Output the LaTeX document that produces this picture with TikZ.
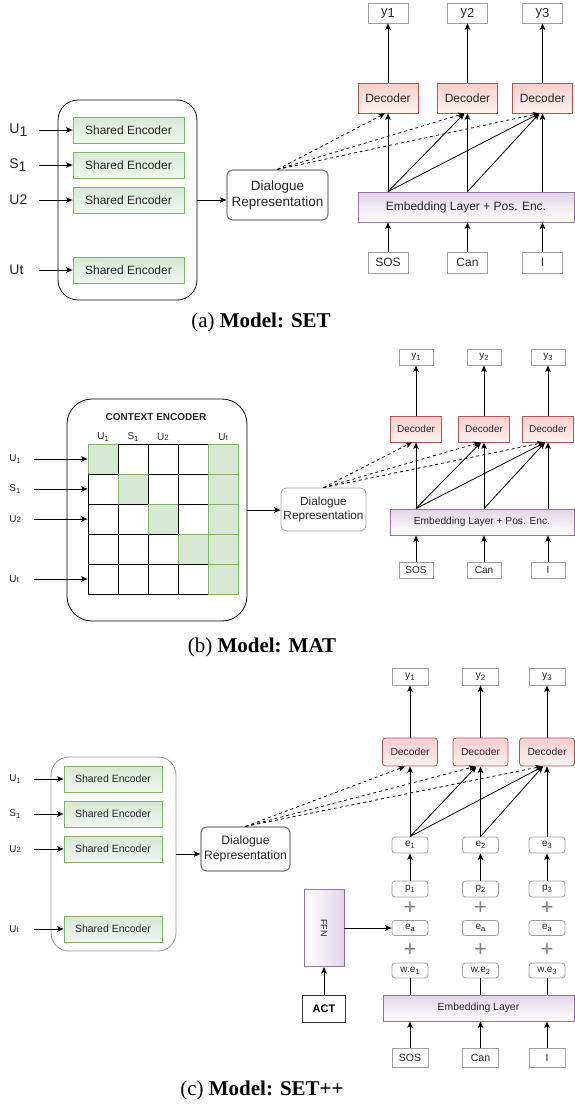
\documentclass[tikz,border=0pt]{standalone}
\usepackage{fontspec}
\setmainfont{Liberation Serif}
\setsansfont{Liberation Sans}
\usetikzlibrary{arrows.meta,positioning}
\definecolor{encgreen}{HTML}{D5E8D4}
\definecolor{encline}{HTML}{82B366}
\definecolor{decred}{HTML}{F8CECC}
\definecolor{decline}{HTML}{B85450}
\definecolor{embpurple}{HTML}{E1D5E7}
\definecolor{embline}{HTML}{9673A6}
\newcommand{\fsize}[2]{\sffamily\fontsize{#1}{#2}\selectfont}
\newcommand{\dsub}[1]{\raisebox{-.35ex}{#1}}
\newcommand{\lsub}[1]{\raisebox{-.4ex}{\scalebox{.75}{#1}}}
\newcommand{\ssub}[1]{\scalebox{.78}{#1}}
\begin{document}
\begin{tikzpicture}[x=1pt,y=-1pt,line width=.8pt,
	>={Stealth[length=6.5pt,width=5.5pt,inset=1.5pt]},
	wh/.style 2 args={minimum width=#1pt,minimum height=#2pt},
	plain/.style={draw=gray!75,fill=white,inner sep=0pt,text=black!85},
	rplain/.style={plain,rounded corners=3pt},
	encbox/.style={draw=encline,top color=encgreen,bottom color=encgreen!35,inner sep=0pt,text=black!85},
	decbox/.style={draw=decline,top color=decred,bottom color=decred!25,inner sep=0pt,text=black!85},
	embbox/.style={draw=embline,top color=embpurple,bottom color=white,inner sep=0pt,text=black!85},
	dlgbox/.style={draw=gray,fill=white,rounded corners=6pt,align=center,inner sep=0pt,text=black!85},
	outerbox/.style={draw,rounded corners=#1,inner sep=0pt},
	lab/.style={inner sep=0pt,anchor=west,text width=#1,align=left,text=black!85},
	wcell/.style={draw=black,fill=white,wh={30}{30},inner sep=0pt},
	gcell/.style={draw=encline,fill=encgreen,wh={30}{30},inner sep=0pt},
	plus/.style={inner sep=0pt,text=gray,font=\fsize{22}{22}},
	caption/.style={font=\fontsize{21}{24}\selectfont}]
	\useasboundingbox (0,0) rectangle (574,1111);
	% (a) SET
	\node[outerbox=20pt,wh={139}{200}] (encA) at (127.5,200) {};
	\foreach \n/\y/\txt in {1/130/U\dsub{1},2/165/S\dsub{1},3/200/U2,4/270/Ut}{
		\node[encbox,wh={111}{26},font=\fsize{12}{14}] (seA\n) at (128.5,\y) {Shared Encoder};
		\node[lab=29pt,font=\fsize{14}{16}] (uA\n) at (9,\y) {\txt};
		\draw[->] (uA\n.east) -- (seA\n.west);
	}
	\node[dlgbox,wh={101}{50},line width=1.2pt,font=\fsize{13.5}{16}] (dlgA) at (277.5,195) {Dialogue\\Representation};
	\draw[->] (encA.east) -- (encA.east -| dlgA.west);
	\node[embbox,wh={216}{30},font=\fsize{12}{14}] (embA) at (466,207) {Embedding Layer + Pos. Enc.};
	\foreach \n/\x/\tok in {1/388/SOS,2/467.5/Can,3/542.5/I}{
		\node[decbox,wh={60}{30},font=\fsize{12}{14}] (decA\n) at (\x,98) {Decoder};
		\node[plain,wh={40}{20},font=\fsize{13}{15}] (yA\n) at (\x,13) {y\dsub{\n}};
		\node[plain,wh={40}{21},font=\fsize{12}{14}] (tokA\n) at (\x,262.5) {\tok};
		\draw[->] (decA\n) -- (yA\n);
		\draw[->] (tokA\n) -- (tokA\n |- embA.south);
		\draw[->] (embA.north -| decA\n) -- (decA\n);
		\draw[->,dashed] (dlgA.north) -- ([xshift=-3pt]decA\n.south);
	}
	\draw[->] (embA.north -| decA1) -- ([xshift=-3pt]decA2.south);
	\draw[->] (embA.north -| decA1) -- ([xshift=-3pt]decA3.south);
	\draw[->] (embA.north -| decA2) -- ([xshift=-3pt]decA3.south);
	\node[caption] (capA) at (261,322) {(a) \textbf{Model: SET}};
	% (b) MAT
	\node[outerbox=25pt,wh={180}{222}] (encB) at (157,510) {};
	\node[font=\fsize{10}{12}\bfseries,text=black!85] (ctxB) at (156,417) {CONTEXT ENCODER};
	\foreach \r in {0,...,4}
		\foreach \c in {0,...,4}{
			\ifnum\c=4 \def\cs{gcell}\else\ifnum\c=\r \def\cs{gcell}\else\def\cs{wcell}\fi\fi
			\node[\cs] (cB\r\c) at ({103+30*\c},{459+30*\r}) {};
		}
	\foreach \c/\txt in {0/U\lsub{1},1/S\lsub{1},2/U\ssub{2},4/U\ssub{t}}
		\node[font=\fsize{10}{12},text=black!85] (hB\c) at ({103+30*\c},437) {\txt};
	\foreach \r/\txt in {0/U\lsub{1},1/S\lsub{1},2/U\ssub{2},4/U\ssub{t}}{
		\node[lab=24pt,font=\fsize{10}{12}] (uB\r) at (9,{459+30*\r}) {\txt};
		\draw[->] (uB\r.east) -- (cB\r0.west);
	}
	\node[dlgbox,wh={85}{43},draw=gray!70,font=\fsize{11.8}{14}] (dlgB) at (323.5,509.5) {Dialogue\\Representation};
	\draw[->] (encB.east) -- (encB.east -| dlgB.west);
	\node[embbox,wh={184}{26},font=\fsize{10.2}{12}] (embB) at (482,522) {Embedding Layer + Pos. Enc.};
	\foreach \n/\x/\tok in {1/416/SOS,2/484/Can,3/548/I}{
		\node[decbox,wh={51}{26},font=\fsize{10}{12}] (decB\n) at (\x,429) {Decoder};
		\node[plain,wh={34}{16},font=\fsize{10}{12}] (yB\n) at (\x,357) {y\lsub{\n}};
		\node[plain,wh={34}{16},font=\fsize{10}{12}] (tokB\n) at (\x,570) {\tok};
		\draw[->] (decB\n) -- (yB\n);
		\draw[->] (tokB\n) -- (tokB\n |- embB.south);
		\draw[->] (embB.north -| decB\n) -- (decB\n);
		\draw[->,dashed] (dlgB.north) -- ([xshift=-4pt]decB\n.south);
	}
	\draw[->] (embB.north -| decB1) -- ([xshift=-3pt]decB2.south);
	\draw[->] (embB.north -| decB1) -- ([xshift=-3pt]decB3.south);
	\draw[->] (embB.north -| decB2) -- ([xshift=-3pt]decB3.south);
	\node[caption] (capB) at (262,647) {(b) \textbf{Model: MAT}};
	% (c) SET++
	\node[outerbox=18pt,draw=gray!80,wh={125}{194}] (encC) at (113.5,854) {};
	\foreach \n/\y/\txt in {1/779/U\lsub{1},2/814/S\lsub{1},3/849/U\ssub{2},4/929/U\ssub{t}}{
		\node[encbox,wh={98}{26},font=\fsize{10.5}{12}] (seC\n) at (113,\y) {Shared Encoder};
		\node[lab=24pt,font=\fsize{10}{12}] (uC\n) at (9,\y) {\txt};
		\draw[->] (uC\n.east) -- (seC\n.west);
	}
	\node[dlgbox,wh={89}{44},line width=1.2pt,font=\fsize{12.2}{14.5}] (dlgC) at (245.5,849) {Dialogue\\Representation};
	\draw[->] (encC.east) -- (encC.east -| dlgC.west);
	\node[embbox,wh={191}{26},font=\fsize{10.4}{12}] (embC) at (478.5,1008) {Embedding Layer};
	\foreach \n/\x/\tok in {1/410/SOS,2/480.5/Can,3/547/I}{
		\node[decbox,rounded corners=3pt,wh={55}{28},font=\fsize{10.3}{12}] (decC\n) at (\x,752) {Decoder};
		\node[plain,wh={36}{17},font=\fsize{10.5}{12}] (yC\n) at (\x,676.5) {y\lsub{\n}};
		\node[rplain,wh={36}{16},font=\fsize{10}{12}] (eC\n) at (\x,845) {e\lsub{\n}};
		\node[rplain,wh={36}{16},font=\fsize{10}{12}] (pC\n) at (\x,889) {p\lsub{\n}};
		\node[plus] (plC\n) at (\x,908) {+};
		\node[rplain,wh={36}{15},font=\fsize{10}{12}] (eaC\n) at (\x,928) {e\lsub{a}};
		\node[plus] (plwC\n) at (\x,950) {+};
		\node[rplain,wh={36}{15},font=\fsize{10}{12}] (weC\n) at (\x,970.5) {w.e\lsub{\n}};
		\node[plain,wh={36}{19},font=\fsize{10.5}{12}] (tokC\n) at (\x,1057.5) {\tok};
		\draw[->] (decC\n) -- (yC\n);
		\draw[->] (eC\n) -- (decC\n);
		\draw[->] (pC\n) -- (eC\n);
		\draw (embC.north -| weC\n) -- (weC\n);
		\draw[->] (tokC\n) -- (tokC\n |- embC.south);
		\draw[->,dashed] (dlgC.north) -- ([xshift=-5pt]decC\n.south);
	}
	\draw[->] (eC1.north) -- ([xshift=-4pt]decC2.south);
	\draw[->] (eC1.north) -- ([xshift=-4pt]decC3.south);
	\draw[->] (eC2.north) -- ([xshift=-4pt]decC3.south);
	\node[draw=embline,left color=white,right color=embpurple,wh={40}{77},inner sep=0pt] (ffn) at (324,928) {};
	\node[rotate=-90,font=\fsize{9}{10},text=black!85] (ffnT) at (ffn) {FFN};
	\node[draw=black!80,fill=white,wh={43}{27},inner sep=0pt,font=\fsize{11}{12}\bfseries] (act) at (324,1008.5) {ACT};
	\draw[->] (act) -- (ffn);
	\draw[->] (ffn.east) -- (eaC1.west);
	\node[caption] (capC) at (262,1090) {(c) \textbf{Model: SET++}};
\end{tikzpicture}
\end{document}
